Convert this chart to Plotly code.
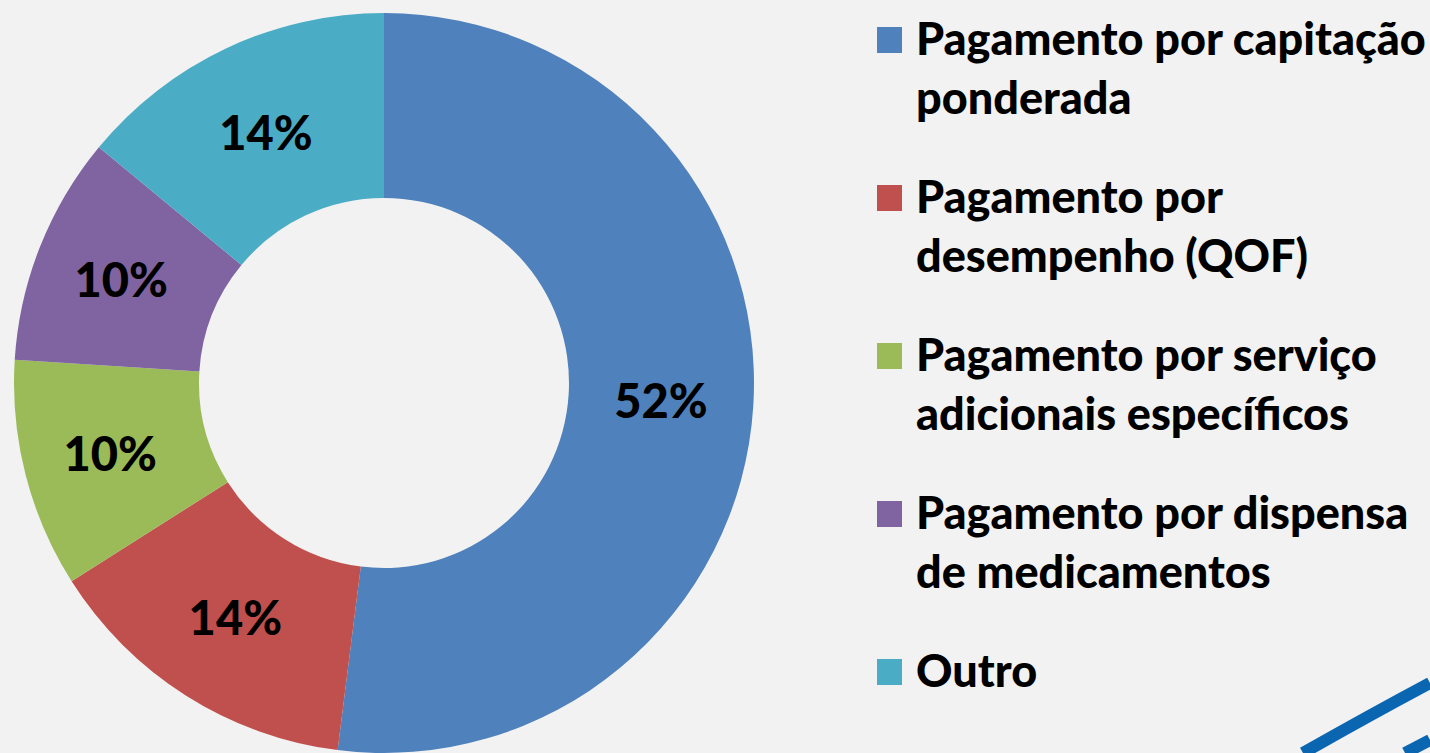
import plotly.graph_objects as go

labels = ['Pagamento por capitação<br>ponderada',
          'Pagamento por<br>desempenho (QOF)',
          'Pagamento por serviço<br>adicionais específicos',
          'Pagamento por dispensa<br>de medicamentos',
          'Outro']
values = [52, 14, 10, 10, 14]
colors = ['#4F81BD', '#C0504D', '#9BBB59', '#8064A2', '#4BACC6']

W, H = 1430, 753
bg = '#F2F2F2'

fig = go.Figure()
fig.add_trace(go.Pie(
    labels=labels, values=values, sort=False, direction='clockwise', rotation=0,
    hole=0.5, marker=dict(colors=colors, line=dict(width=0)),
    textinfo='percent', textposition='inside', insidetextorientation='horizontal',
    insidetextfont=dict(family='Lato', size=47, color='black', weight=900),
    domain=dict(x=[0, 768 / W], y=[0, 1 - 13 / H]),
    showlegend=False,
))

# legend built by hand so the colour squares can be as large as in the original
fs = 45
shapes = []
annotations = []
first_base = 53
step = 158
for i, (lab, col) in enumerate(zip(labels, colors)):
    base = first_base + step * i
    shapes.append(dict(type='rect', xref='paper', yref='paper',
                       x0=877 / W, x1=902 / W, y0=1 - base / H, y1=1 - (base - 26) / H,
                       fillcolor=col, line=dict(width=0)))
    annotations.append(dict(text=lab, xref='paper', yref='paper',
                            x=914 / W, y=1 - (base - 44) / H,
                            xanchor='left', yanchor='top', align='left', showarrow=False,
                            font=dict(family='Lato', size=fs, color='black', weight=900)))

# decorative blue swooshes, bottom right
shapes.append(dict(type='path', xref='paper', yref='paper',
                   path=f'M {1303 / W},0 Q {1370 / W},{1 - 715 / H} {1.0},{1 - 683 / H}',
                   line=dict(color='#0B66B2', width=12)))
shapes.append(dict(type='path', xref='paper', yref='paper',
                   path=f'M {1405 / W},0 L {1.0},{1 - 740 / H}',
                   line=dict(color='#0B66B2', width=12)))

fig.update_layout(
    width=W, height=H, margin=dict(l=0, r=0, t=0, b=0),
    paper_bgcolor=bg, plot_bgcolor=bg,
    shapes=shapes, annotations=annotations,
)
fig.write_html('out.html', config={'displayModeBar': False},
               post_script="document.body.style.margin='0';"
                           "document.body.style.overflow='hidden';"
                           "document.body.style.background='#F2F2F2';")
